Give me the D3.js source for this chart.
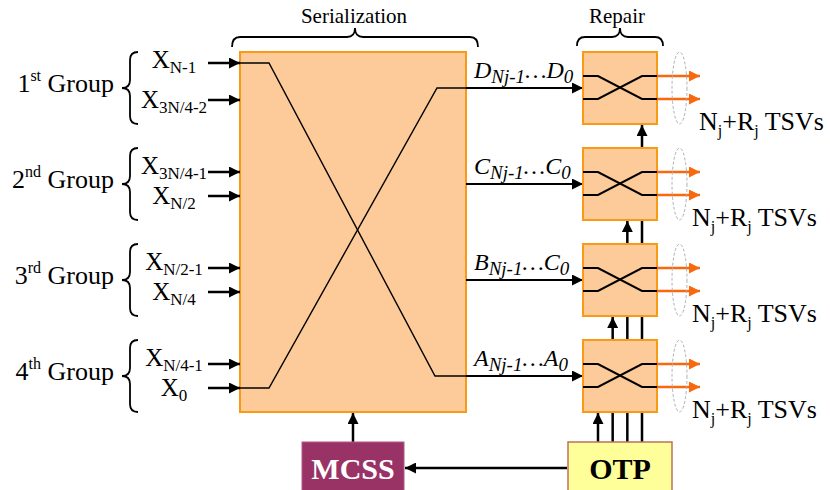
<!DOCTYPE html>
<html><head><meta charset="utf-8">
<script src="https://cdn.jsdelivr.net/npm/d3@7"></script>
<style>body{margin:0;background:#fff}svg{display:block}</style>
</head><body><svg id="c" width="830" height="490"></svg>
<script>
// ---- data ----
const groupOrdinals = ["1", "2", "3", "4"];
const groupSuffixes = ["st", "nd", "rd", "th"];
const inputSubs = [["N-1", "3N/4-2"], ["3N/4-1", "N/2"], ["N/2-1", "N/4"], ["N/4-1", "0"]];
const busLetters = [["D", "D"], ["C", "C"], ["B", "C"], ["A", "A"]];
const busSubs = [["Nj-1", "0"], ["Nj-1", "0"], ["Nj-1", "0"], ["Nj-1", "0"]];
const tsvLabel = ["N", "j", "+R", "j", " TSVs"];
const blockTitles = ["Serialization", "Repair"];
const controlBlocks = ["MCSS", "OTP"];

const FONT = "Liberation Serif";
const svg = d3.select("#c");
const row = d3.scaleLinear().domain([0, 4]).range([52, 436]); // top of each group row
const H = 72;
const serX0 = 240, serX1 = 466, serY0 = 52, serY1 = 412;
const repX0 = 583, repX1 = 657;
const peach = "#fdca99", orangeStroke = "#fa9a14", orangeArrow = "#f7690f";

const defs = svg.append("defs");
function marker(id, color, w, h) {
  defs.append("marker").attr("id", id).attr("viewBox", "0 0 10 10").attr("refX", 10).attr("refY", 5)
    .attr("markerWidth", w).attr("markerHeight", h).attr("markerUnits", "userSpaceOnUse").attr("orient", "auto")
    .append("path").attr("d", "M0,0 L10,5 L0,10 z").attr("fill", color);
}
marker("ab", "#000", 13, 11);
marker("ao", orangeArrow, 13, 11);

function hBrace(x1, x2, y0, y1, y2) {
  const xm = (x1 + x2) / 2, r = 8;
  return `M${x1},${y0} Q${x1},${y1} ${x1 + r},${y1} L${xm - r},${y1} Q${xm},${y1} ${xm},${y2} Q${xm},${y1} ${xm + r},${y1} L${x2 - r},${y1} Q${x2},${y1} ${x2},${y0}`;
}
function vBrace(xe, xs, xt, y0, y1) {
  const ym = (y0 + y1) / 2, r = 8;
  return `M${xe},${y0} Q${xs},${y0} ${xs},${y0 + r} L${xs},${ym - r} Q${xs},${ym} ${xt},${ym} Q${xs},${ym} ${xs},${ym + r} L${xs},${y1 - r} Q${xs},${y1} ${xe},${y1}`;
}
function txt(x, y, size) {
  return svg.append("text").attr("x", x).attr("y", y).attr("font-size", size).attr("font-family", FONT).attr("fill", "#000");
}

// ---- OTP control lines (drawn under the repair boxes) ----
const otpTop = 442;
const lineX = d3.scaleLinear().domain([0, 3]).range([598, 642]);
d3.range(4).forEach(k => {
  const target = 3 - k; // A(3), B(2), C(1), D(0)
  svg.append("line").attr("x1", lineX(k)).attr("x2", lineX(k)).attr("y1", otpTop)
    .attr("y2", row(target) + H + 1).attr("stroke", "#000").attr("stroke-width", 2.5).attr("marker-end", "url(#ab)");
});

// ---- Serialization box ----
svg.append("rect").attr("x", serX0).attr("y", serY0).attr("width", serX1 - serX0).attr("height", serY1 - serY0)
  .attr("fill", peach).attr("stroke", orangeStroke).attr("stroke-width", 2);
svg.append("path").attr("d", hBrace(232, 478, 47, 37, 28)).attr("fill", "none").attr("stroke", "#000").attr("stroke-width", 1.8);
txt(354, 23, 21).attr("text-anchor", "middle").text(blockTitles[0]);

// crossing wires inside serialization box
const yTopIn = row(0) + 11, yBotIn = row(3) + 48;
const busY = i => row(i) + 36;
svg.append("path").attr("d", `M${serX0},${yTopIn} L269,${yTopIn} L435,${busY(3)} L${serX1},${busY(3)}`)
  .attr("fill", "none").attr("stroke", "#000").attr("stroke-width", 1.4);
svg.append("path").attr("d", `M${serX0},${yBotIn} L269,${yBotIn} L437,${busY(0)} L${serX1},${busY(0)}`)
  .attr("fill", "none").attr("stroke", "#000").attr("stroke-width", 1.4);

// ---- groups / inputs ----
groupOrdinals.forEach((g, i) => {
  const top = row(i);
  const t = txt(114, top + 40, 26).attr("text-anchor", "end");
  t.append("tspan").text(g);
  t.append("tspan").attr("font-size", 16).attr("dy", -11).text(groupSuffixes[i]);
  t.append("tspan").attr("dy", 11).text(" Group");
  svg.append("path").attr("d", vBrace(138, 130, 122, top, top + H)).attr("fill", "none").attr("stroke", "#000").attr("stroke-width", 1.8);
  inputSubs[i].forEach((s, j) => {
    const ay = (i === 0 && j === 0) ? top + 11 : top + (j === 0 ? 24 : 48);
    const by = j === 0 ? (i === 0 ? top + 16 : top + 26) : top + 56;
    svg.append("line").attr("x1", 208).attr("x2", serX0).attr("y1", ay).attr("y2", ay)
      .attr("stroke", "#000").attr("stroke-width", 2.5).attr("marker-end", "url(#ab)");
    const lt = txt(174, by, 25).attr("text-anchor", "middle");
    lt.append("tspan").text("X");
    lt.append("tspan").attr("font-size", 17).attr("dy", 5).text(s);
  });
});

// ---- repair blocks ----
svg.append("path").attr("d", hBrace(577, 663, 46, 37, 28)).attr("fill", "none").attr("stroke", "#000").attr("stroke-width", 1.8);
txt(617, 23, 21).attr("text-anchor", "middle").text(blockTitles[1]);

busLetters.forEach((b, i) => {
  const top = row(i), mid = busY(i);
  svg.append("line").attr("x1", serX1).attr("x2", repX0).attr("y1", mid).attr("y2", mid)
    .attr("stroke", "#000").attr("stroke-width", 2).attr("marker-end", "url(#ab)");
  const bt = txt(474, mid - 10, 24).attr("font-style", "italic");
  bt.append("tspan").text(b[0]);
  bt.append("tspan").attr("font-size", 19).attr("dy", 5).text(busSubs[i][0]);
  bt.append("tspan").attr("dy", -5).text("…" + b[1]);
  bt.append("tspan").attr("font-size", 19).attr("dy", 5).text(busSubs[i][1]);
  svg.append("rect").attr("x", repX0).attr("y", top).attr("width", repX1 - repX0).attr("height", H)
    .attr("fill", peach).attr("stroke", orangeStroke).attr("stroke-width", 2);
  const u = mid - 12, l = mid + 11;
  svg.append("path").attr("d", `M${repX0},${u} L598,${u} L642,${l} L${repX1},${l}`).attr("fill", "none").attr("stroke", "#000").attr("stroke-width", 2);
  svg.append("path").attr("d", `M${repX0},${l} L598,${l} L642,${u} L${repX1},${u}`).attr("fill", "none").attr("stroke", "#000").attr("stroke-width", 2);
  [u, l].forEach(y => svg.append("line").attr("x1", repX1).attr("x2", 700).attr("y1", y).attr("y2", y)
    .attr("stroke", orangeArrow).attr("stroke-width", 2.5).attr("marker-end", "url(#ao)"));
  svg.append("ellipse").attr("cx", 679.5).attr("cy", mid).attr("rx", 7.5).attr("ry", 36)
    .attr("fill", "none").attr("stroke", "#b0b0b0").attr("stroke-width", 1).attr("stroke-dasharray", "3,2");
  const tt = txt(i === 0 ? 699 : 692, top + 78, 26);
  tt.append("tspan").text(tsvLabel[0]);
  tt.append("tspan").attr("font-size", 16).attr("dy", 6).text(tsvLabel[1]);
  tt.append("tspan").attr("dy", -6).text(tsvLabel[2]);
  tt.append("tspan").attr("font-size", 16).attr("dy", 6).text(tsvLabel[3]);
  tt.append("tspan").attr("dy", -6).text(tsvLabel[4]);
});

// ---- control blocks ----
svg.append("line").attr("x1", 353).attr("x2", 353).attr("y1", otpTop).attr("y2", serY1 + 1)
  .attr("stroke", "#000").attr("stroke-width", 2.5).attr("marker-end", "url(#ab)");
svg.append("line").attr("x1", 567).attr("x2", 405).attr("y1", 468).attr("y2", 468)
  .attr("stroke", "#000").attr("stroke-width", 2.5).attr("marker-end", "url(#ab)");
svg.append("rect").attr("x", 302).attr("y", otpTop).attr("width", 102).attr("height", 52)
  .attr("fill", "#993366").attr("stroke", "#b2588a").attr("stroke-width", 1);
txt(353, 479, 30).attr("text-anchor", "middle").attr("font-weight", "bold").attr("fill", "#fff").text(controlBlocks[0]);
svg.append("rect").attr("x", 568).attr("y", otpTop).attr("width", 104).attr("height", 52)
  .attr("fill", "#ffff99").attr("stroke", "#b9735a").attr("stroke-width", 1.5);
txt(620, 479, 30).attr("text-anchor", "middle").attr("font-weight", "bold").text(controlBlocks[1]);
</script></body></html>
